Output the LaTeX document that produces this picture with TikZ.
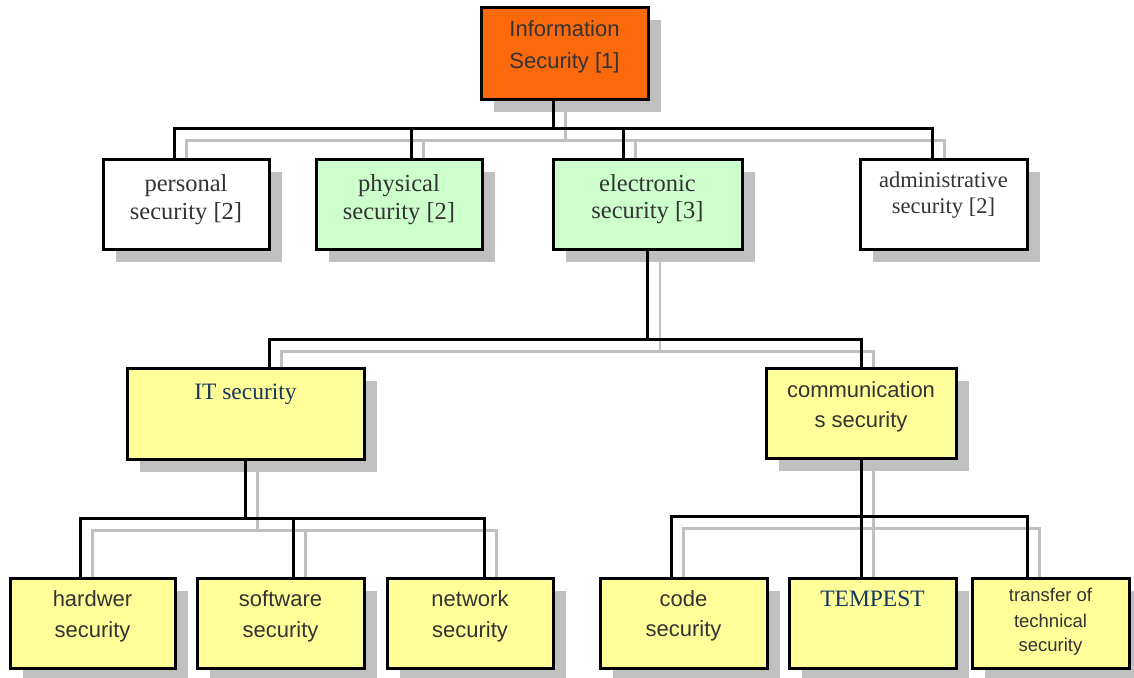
\documentclass[tikz,border=0pt]{standalone}
\usepackage{fontspec}
\setmainfont{Liberation Serif}
\newfontfamily\arialf{Liberation Sans}
\usetikzlibrary{calc}

\definecolor{orgfill}{RGB}{250,106,12}
\definecolor{grnfill}{RGB}{204,255,204}
\definecolor{yelfill}{RGB}{255,255,153}
\definecolor{shadecol}{RGB}{192,192,192}
\definecolor{txtgray}{RGB}{51,51,51}
\definecolor{txtblue}{RGB}{23,54,93}

\pgfdeclarelayer{shade}
\pgfdeclarelayer{wires}
\pgfsetlayers{shade,wires,main}

% child -> bus -> parent connector; \d and \sty come from the enclosing loop
\newcommand\link[5]{%
  \draw[\sty] ($(#4.north)+(#5+\d,\d)$) |- ($(#1.south)+(#2+\d,#3+\d)$)
              -- ($(#1.south)+(#2+\d,\d)$);}
% one line of box text, baseline placed below the box top
\newcommand\boxline[5]{\node[#1] (#2) at ($(#3.north)+(0,#4)$) {#5};}

\begin{document}
\begin{tikzpicture}[x=1pt,y=-1pt,
  unit/.style={draw=black, line width=3pt, inner sep=0pt, outer sep=0pt,
               minimum height=90pt},
  wire/.style={draw=black, line width=3pt},
  shadewire/.style={draw=shadecol, line width=2.5pt},
  lbl/.style={anchor=base, inner sep=0pt, text=txtgray},
  sanslbl/.style={lbl, font=\arialf\fontsize{22}{26}\selectfont},
  smallsans/.style={lbl, font=\arialf\fontsize{18.5}{22}\selectfont},
  seriflbl/.style={lbl, font=\fontsize{24.5}{28}\selectfont},
  smallserif/.style={lbl, font=\fontsize{22.5}{26}\selectfont},
  bluelbl/.style={lbl, text=txtblue, font=\fontsize{23.5}{27}\selectfont}]

\useasboundingbox (0,0) rectangle (1134,677);

% ---- boxes ----
\node[unit, fill=orgfill, minimum width=167pt, minimum height=91pt] (info) at (564.5,53.5) {};

\node[unit, fill=white,   minimum width=166pt] (pers) at (186,204) {};
\node[unit, fill=grnfill, minimum width=166pt] (phys) at (399,204) {};
\node[unit, fill=grnfill, minimum width=189pt] (elec) at (647.5,204) {};
\node[unit, fill=white,   minimum width=167pt] (adm)  at (943.5,204) {};

\node[unit, fill=yelfill, minimum width=237pt, minimum height=91pt] (it) at (245.5,413.5) {};
\node[unit, fill=yelfill, minimum width=190pt] (comm) at (861,413) {};

\node[unit, fill=yelfill, minimum width=165pt] (hard)  at (92.5,623) {};
\node[unit, fill=yelfill, minimum width=167pt] (soft)  at (280.5,623) {};
\node[unit, fill=yelfill, minimum width=166pt] (net)   at (470,623) {};
\node[unit, fill=yelfill, minimum width=167pt] (code)  at (683.5,623) {};
\node[unit, fill=yelfill, minimum width=167pt] (temp)  at (872.5,623) {};
\node[unit, fill=yelfill, minimum width=157pt] (trans) at (1050.5,623) {};

% ---- drop shadows ----
\begin{pgfonlayer}{shade}
  \foreach \n in {info,pers,phys,elec,adm,it,comm,hard,soft,net,code,temp,trans}
    \fill[shadecol] ($(\n.south west)+(12.5,12.5)$) rectangle ($(\n.north east)+(12.5,12.5)$);
\end{pgfonlayer}

% ---- connectors (grey shadow copy first, then black) ----
\begin{pgfonlayer}{wires}
  \foreach \d/\sty in {12.5/shadewire, 0/wire}{
    \link{info}{-11.5}{29}{pers}{-12}
    \link{info}{-11.5}{29}{phys}{12}
    \link{info}{-11.5}{29}{elec}{-24.5}
    \link{info}{-11.5}{29}{adm}{-11.5}
    \link{elec}{0}{90}{it}{23.5}
    \link{elec}{0}{90}{comm}{0}
    \link{it}{-0.5}{59}{hard}{-12.5}
    \link{it}{-0.5}{59}{soft}{12.5}
    \link{it}{-0.5}{59}{net}{14}
    \link{comm}{0}{58}{code}{-12.5}
    \link{comm}{0}{58}{temp}{-11.5}
    \link{comm}{0}{58}{trans}{-23.5}
  }
\end{pgfonlayer}

% ---- box texts ----
\boxline{sanslbl}{info-a}{info}{29}{Information}
\boxline{sanslbl}{info-b}{info}{60}{Security [1]}

\boxline{seriflbl}{pers-a}{pers}{32}{personal}
\boxline{seriflbl}{pers-b}{pers}{60}{security [2]}
\boxline{seriflbl}{phys-a}{phys}{32}{physical}
\boxline{seriflbl}{phys-b}{phys}{60}{security [2]}
\boxline{seriflbl}{elec-a}{elec}{32}{electronic}
\boxline{seriflbl}{elec-b}{elec}{59}{security [3]}
\boxline{smallserif}{adm-a}{adm}{28}{administrative}
\boxline{smallserif}{adm-b}{adm}{54}{security [2]}

\boxline{bluelbl}{it-a}{it}{31}{IT security}
\boxline{sanslbl}{comm-a}{comm}{29}{communication}
\boxline{sanslbl}{comm-b}{comm}{59}{s security}

\boxline{sanslbl}{hard-a}{hard}{28}{hardwer}
\boxline{sanslbl}{hard-b}{hard}{59}{security}
\boxline{sanslbl}{soft-a}{soft}{28}{software}
\boxline{sanslbl}{soft-b}{soft}{59}{security}
\boxline{sanslbl}{net-a}{net}{28}{network}
\boxline{sanslbl}{net-b}{net}{59}{security}
\boxline{sanslbl}{code-a}{code}{28}{code}
\boxline{sanslbl}{code-b}{code}{58}{security}
\boxline{bluelbl}{temp-a}{temp}{28}{TEMPEST}
\boxline{smallsans}{trans-a}{trans}{23}{transfer of}
\boxline{smallsans}{trans-b}{trans}{49}{technical}
\boxline{smallsans}{trans-c}{trans}{73}{security}

\end{tikzpicture}
\end{document}
